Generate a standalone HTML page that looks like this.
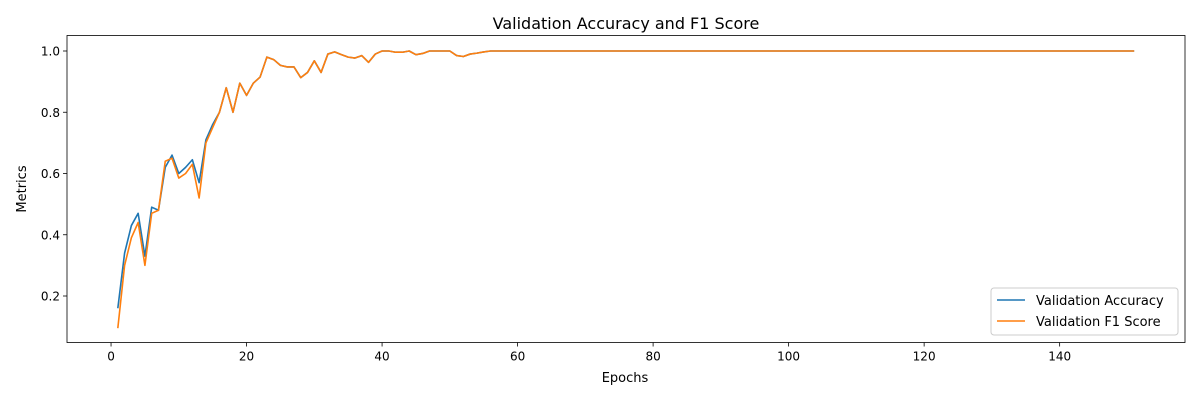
<!DOCTYPE html>
<html><head><meta charset="utf-8"><style>
body{margin:0;background:#fff;}
svg{font-family:"DejaVu Sans","Liberation Sans",sans-serif;}
</style></head><body>
<svg id="chart" width="1200" height="400">
<rect width="1200" height="400" fill="#fff"/>
<text x="626" y="29" font-size="16" text-anchor="middle">Validation Accuracy and F1 Score</text>
<g id="grid"></g>
<g id="series"></g>
<rect x="67" y="35.5" width="1118" height="307" fill="none" stroke="#000" stroke-width="0.8"/>
<text x="625" y="382" font-size="13" text-anchor="middle">Epochs</text>
<text x="0" y="0" font-size="13" text-anchor="middle" transform="translate(26,189) rotate(-90)">Metrics</text>
<g>
<rect x="991" y="288" width="187" height="47" rx="3" fill="#fff" fill-opacity="0.8" stroke="#ccc"/>
<line x1="997" y1="300" x2="1025" y2="300" stroke="#1f77b4" stroke-width="1.5"/>
<text x="1036" y="305" font-size="13">Validation Accuracy</text>
<line x1="997" y1="321" x2="1025" y2="321" stroke="#ff7f0e" stroke-width="1.5"/>
<text x="1036" y="326" font-size="13">Validation F1 Score</text>
</g>
</svg>
<script>
const accHead = [0.16,0.34,0.43,0.47,0.33,0.49,0.48,0.62,0.66,0.60,0.62,0.645,0.57,0.71,0.76,0.80,0.88,0.80,0.895,0.855,0.895,0.915,0.98,0.972,0.953,0.948,0.948,0.913,0.93,0.968,0.93,0.99,0.997,0.988,0.98,0.977,0.985,0.963,0.99,1.0,1.0,0.996,0.996,1.0,0.988,0.992,1.0,1.0,1.0,1.0,0.985,0.982,0.99,0.993,0.997];
const f1Head = [0.095,0.30,0.39,0.44,0.30,0.47,0.48,0.64,0.65,0.585,0.60,0.63,0.52,0.70,0.75,0.80,0.88,0.80,0.895,0.855,0.895,0.915,0.98,0.972,0.953,0.948,0.948,0.913,0.93,0.968,0.93,0.99,0.997,0.988,0.98,0.977,0.985,0.963,0.99,1.0,1.0,0.996,0.996,1.0,0.988,0.992,1.0,1.0,1.0,1.0,0.985,0.982,0.99,0.993,0.997];
const plateauValue = 1.0;
const totalEpochs = 151;
const xTicks = [0,20,40,60,80,100,120,140];
const yTicks = [0.2,0.4,0.6,0.8,1.0];
const accuracy = accHead.concat(Array(totalEpochs - accHead.length).fill(plateauValue));
const f1 = f1Head.concat(Array(totalEpochs - f1Head.length).fill(plateauValue));
const epochs = accuracy.map((_, i) => i + 1);

const L=67,R=1185,T=35.5,B=342.5;
const xmin=-6.5,xmax=158.5;
const xs=v=>L+(v-xmin)/(xmax-xmin)*(R-L);
const ys=v=>51+(1-v)*306.25;
const NS="http://www.w3.org/2000/svg";
const g=document.getElementById('grid'), s=document.getElementById('series');
function mk(tag,attrs,parent){const e=document.createElementNS(NS,tag);for(const k in attrs)e.setAttribute(k,attrs[k]);parent.appendChild(e);return e;}
xTicks.forEach(t=>{
  const x=xs(t);
  const tk=mk('line',{x1:x,x2:x,y1:B,y2:B+4,stroke:'#000','stroke-width':0.8},g);
  
  
  const tx=mk('text',{x:x,y:B+18,'font-size':12,'text-anchor':'middle'},g);
  tx.textContent=t;
  
  
});
yTicks.forEach(t=>{
  const y=ys(t);
  const tk=mk('line',{x1:L-4,x2:L,y1:y,y2:y,stroke:'#000','stroke-width':0.8},g);
  
  
  const tx=mk('text',{x:L-7,y:y+4.5,'font-size':12,'text-anchor':'end'},g);
  tx.textContent=t.toFixed(1);
  
  
});
function line(data,color,name){
  const p=mk('polyline',{points:data.map((v,i)=>xs(epochs[i])+','+ys(v)).join(' '),fill:'none',stroke:color,'stroke-width':1.6,'stroke-linejoin':'round'},s);
  
  
}
line(accuracy,'#1f77b4','accuracy-line');
line(f1,'#ff7f0e','f1-line');
</script>
</body></html>
